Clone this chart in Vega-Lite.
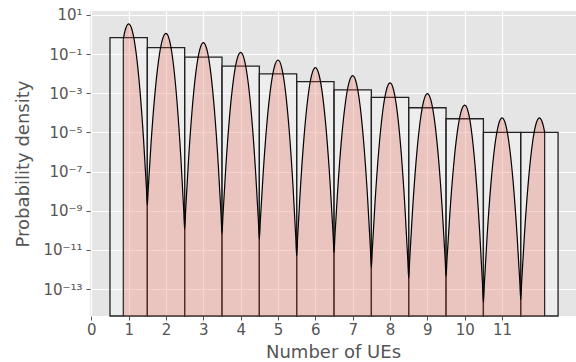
{
  "$schema": "https://vega.github.io/schema/vega-lite/v6.json",
  "width": 486,
  "height": 305,
  "autosize": {"type": "none"},
  "padding": {"left": 90, "top": 11, "right": 0, "bottom": 46},
  "background": "white",
  "config": {
    "view": {"fill": "#E5E5E5", "stroke": null},
    "axis": {
      "domain": false,
      "gridColor": "white",
      "gridWidth": 1.2,
      "tickColor": "#555555",
      "tickSize": 4,
      "labelColor": "#555555",
      "titleColor": "#555555",
      "labelFont": "DejaVu Sans",
      "titleFont": "DejaVu Sans",
      "titleFontWeight": "normal",
      "labelFontSize": 15,
      "titleFontSize": 18
    }
  },
  "datasets": {
    "bars": [
      {"ues": 0.5, "ues_end": 1.5, "density": 0.692},
      {"ues": 1.5, "ues_end": 2.5, "density": 0.214},
      {"ues": 2.5, "ues_end": 3.5, "density": 0.0708},
      {"ues": 3.5, "ues_end": 4.5, "density": 0.0245},
      {"ues": 4.5, "ues_end": 5.5, "density": 0.00977},
      {"ues": 5.5, "ues_end": 6.5, "density": 0.00389},
      {"ues": 6.5, "ues_end": 7.5, "density": 0.00148},
      {"ues": 7.5, "ues_end": 8.5, "density": 0.000617},
      {"ues": 8.5, "ues_end": 9.5, "density": 0.000182},
      {"ues": 9.5, "ues_end": 10.5, "density": 0.0000501},
      {"ues": 10.5, "ues_end": 11.5, "density": 0.00001},
      {"ues": 11.5, "ues_end": 12.5, "density": 0.00001}
    ],
    "curve": [
      {"ues": 0.857, "density": 5.75e-1},
      {"ues": 0.9, "density": 1.48},
      {"ues": 1.0, "density": 3.47},
      {"ues": 1.1, "density": 1.48},
      {"ues": 1.2, "density": 1.15e-1},
      {"ues": 1.3, "density": 1.62e-3},
      {"ues": 1.4, "density": 4.17e-6},
      {"ues": 1.475, "density": 1.56e-8},
      {"ues": 1.5, "density": 1.95e-9},
      {"ues": 1.525, "density": 1.40e-8},
      {"ues": 1.6, "density": 2.80e-6},
      {"ues": 1.7, "density": 8.00e-4},
      {"ues": 1.8, "density": 4.54e-2},
      {"ues": 1.9, "density": 5.13e-1},
      {"ues": 2.0, "density": 1.15},
      {"ues": 2.1, "density": 4.57e-1},
      {"ues": 2.2, "density": 2.87e-2},
      {"ues": 2.3, "density": 2.86e-4},
      {"ues": 2.4, "density": 4.51e-7},
      {"ues": 2.475, "density": 1.06e-9},
      {"ues": 2.5, "density": 1.12e-10},
      {"ues": 2.525, "density": 9.55e-10},
      {"ues": 2.6, "density": 3.05e-7},
      {"ues": 2.7, "density": 1.43e-4},
      {"ues": 2.8, "density": 1.16e-2},
      {"ues": 2.9, "density": 1.61e-1},
      {"ues": 3.0, "density": 3.89e-1},
      {"ues": 3.1, "density": 1.58e-1},
      {"ues": 3.2, "density": 1.07e-2},
      {"ues": 3.3, "density": 1.20e-4},
      {"ues": 3.4, "density": 2.24e-7},
      {"ues": 3.475, "density": 6.18e-10},
      {"ues": 3.5, "density": 6.92e-11},
      {"ues": 3.525, "density": 5.52e-10},
      {"ues": 3.6, "density": 1.48e-7},
      {"ues": 3.7, "density": 5.75e-5},
      {"ues": 3.8, "density": 4.07e-3},
      {"ues": 3.9, "density": 5.25e-2},
      {"ues": 4.0, "density": 1.23e-1},
      {"ues": 4.1, "density": 5.11e-2},
      {"ues": 4.2, "density": 3.66e-3},
      {"ues": 4.3, "density": 4.53e-5},
      {"ues": 4.4, "density": 9.64e-8},
      {"ues": 4.475, "density": 3.02e-10},
      {"ues": 4.5, "density": 3.55e-11},
      {"ues": 4.525, "density": 2.77e-10},
      {"ues": 4.6, "density": 6.98e-8},
      {"ues": 4.7, "density": 2.55e-5},
      {"ues": 4.8, "density": 1.72e-3},
      {"ues": 4.9, "density": 2.16e-2},
      {"ues": 5.0, "density": 5.01e-2},
      {"ues": 5.1, "density": 2.00e-2},
      {"ues": 5.2, "density": 1.26e-3},
      {"ues": 5.3, "density": 1.26e-5},
      {"ues": 5.4, "density": 2.00e-8},
      {"ues": 5.475, "density": 4.73e-11},
      {"ues": 5.5, "density": 5.01e-12},
      {"ues": 5.525, "density": 4.34e-11},
      {"ues": 5.6, "density": 1.45e-8},
      {"ues": 5.7, "density": 7.08e-6},
      {"ues": 5.8, "density": 5.92e-4},
      {"ues": 5.9, "density": 8.43e-3},
      {"ues": 6.0, "density": 2.04e-2},
      {"ues": 6.1, "density": 8.55e-3},
      {"ues": 6.2, "density": 6.31e-4},
      {"ues": 6.3, "density": 8.17e-6},
      {"ues": 6.4, "density": 1.85e-8},
      {"ues": 6.475, "density": 6.17e-11},
      {"ues": 6.5, "density": 7.41e-12},
      {"ues": 6.525, "density": 5.62e-11},
      {"ues": 6.6, "density": 1.32e-8},
      {"ues": 6.7, "density": 4.46e-6},
      {"ues": 6.8, "density": 2.85e-4},
      {"ues": 6.9, "density": 3.46e-3},
      {"ues": 7.0, "density": 7.94e-3},
      {"ues": 7.1, "density": 3.22e-3},
      {"ues": 7.2, "density": 2.15e-4},
      {"ues": 7.3, "density": 2.36e-6},
      {"ues": 7.4, "density": 4.25e-9},
      {"ues": 7.475, "density": 1.14e-11},
      {"ues": 7.5, "density": 1.26e-12},
      {"ues": 7.525, "density": 1.04e-11},
      {"ues": 7.6, "density": 3.13e-9},
      {"ues": 7.7, "density": 1.36e-6},
      {"ues": 7.8, "density": 1.05e-4},
      {"ues": 7.9, "density": 1.42e-3},
      {"ues": 8.0, "density": 3.39e-3},
      {"ues": 8.1, "density": 1.35e-3},
      {"ues": 8.2, "density": 8.57e-5},
      {"ues": 8.3, "density": 8.65e-7},
      {"ues": 8.4, "density": 1.39e-9},
      {"ues": 8.475, "density": 3.33e-12},
      {"ues": 8.5, "density": 3.55e-13},
      {"ues": 8.525, "density": 2.94e-12},
      {"ues": 8.6, "density": 8.81e-10},
      {"ues": 8.7, "density": 3.85e-7},
      {"ues": 8.8, "density": 2.96e-5},
      {"ues": 8.9, "density": 4.01e-4},
      {"ues": 9.0, "density": 9.55e-4},
      {"ues": 9.1, "density": 4.05e-4},
      {"ues": 9.2, "density": 3.08e-5},
      {"ues": 9.3, "density": 4.22e-7},
      {"ues": 9.4, "density": 1.03e-9},
      {"ues": 9.475, "density": 3.71e-12},
      {"ues": 9.5, "density": 4.57e-13},
      {"ues": 9.525, "density": 3.25e-12},
      {"ues": 9.6, "density": 6.40e-10},
      {"ues": 9.7, "density": 1.79e-7},
      {"ues": 9.8, "density": 1.00e-5},
      {"ues": 9.9, "density": 1.12e-4},
      {"ues": 10.0, "density": 2.51e-4},
      {"ues": 10.1, "density": 9.93e-5},
      {"ues": 10.2, "density": 6.12e-6},
      {"ues": 10.3, "density": 5.90e-8},
      {"ues": 10.4, "density": 8.89e-11},
      {"ues": 10.475, "density": 2.01e-13},
      {"ues": 10.5, "density": 2.09e-14},
      {"ues": 10.525, "density": 1.73e-13},
      {"ues": 10.6, "density": 5.14e-11},
      {"ues": 10.7, "density": 2.23e-8},
      {"ues": 10.8, "density": 1.71e-6},
      {"ues": 10.9, "density": 2.31e-5},
      {"ues": 11.0, "density": 5.50e-5},
      {"ues": 11.1, "density": 2.34e-5},
      {"ues": 11.2, "density": 1.81e-6},
      {"ues": 11.3, "density": 2.53e-8},
      {"ues": 11.4, "density": 6.41e-11},
      {"ues": 11.475, "density": 2.37e-13},
      {"ues": 11.5, "density": 2.95e-14},
      {"ues": 11.525, "density": 2.37e-13},
      {"ues": 11.6, "density": 6.41e-11},
      {"ues": 11.7, "density": 2.53e-8},
      {"ues": 11.8, "density": 1.81e-6},
      {"ues": 11.9, "density": 2.34e-5},
      {"ues": 12.0, "density": 5.50e-5},
      {"ues": 12.1, "density": 2.34e-5},
      {"ues": 12.14, "density": 1.03e-5}
    ]
  },
  "encoding": {
    "x": {
      "field": "ues",
      "type": "quantitative",
      "scale": {"domain": [-0.035, 12.98], "nice": false, "zero": false},
      "axis": {
        "title": "Number of UEs",
        "values": [0, 1, 2, 3, 4, 5, 6, 7, 8, 9, 10, 11],
        "labelPadding": 2,
        "labelFlush": false,
        "titleY": 41,
        "titleBaseline": "alphabetic"
      }
    },
    "y": {
      "field": "density",
      "type": "quantitative",
      "scale": {"type": "log", "domain": [4.27e-15, 15.85], "nice": false, "clamp": true},
      "axis": {
        "title": "Probability density",
        "values": [10, 0.1, 0.001, 0.00001, 0.0000001, 0.000000001, 0.00000000001, 0.0000000000001],
        "labelExpr": "datum.value > 1 ? '10¹' : datum.value > 0.01 ? '10⁻¹' : datum.value > 0.0001 ? '10⁻³' : datum.value > 0.000001 ? '10⁻⁵' : datum.value > 0.00000001 ? '10⁻⁷' : datum.value > 0.0000000001 ? '10⁻⁹' : datum.value > 0.000000000001 ? '10⁻¹¹' : '10⁻¹³'",
        "labelPadding": 4,
        "labelFlush": false,
        "titleX": -62,
        "titleY": 152.5,
        "titleAlign": "center",
        "titleBaseline": "alphabetic"
      }
    }
  },
  "layer": [
    {
      "data": {"name": "bars"},
      "mark": {"type": "rect", "fill": "white", "fillOpacity": 0.3, "stroke": "#222222", "strokeWidth": 1.3},
      "encoding": {
        "x2": {"field": "ues_end"},
        "y2": {"datum": 1e-20}
      }
    },
    {
      "data": {"name": "curve"},
      "mark": {"type": "area", "color": "#E24A33", "fillOpacity": 0.25, "interpolate": "monotone"},
      "encoding": {
        "y2": {"datum": 1e-20}
      }
    },
    {
      "data": {"name": "curve"},
      "mark": {"type": "line", "color": "black", "strokeWidth": 1.2, "interpolate": "monotone"},
      "encoding": {}
    },
    {
      "data": {"name": "curve"},
      "transform": [{"filter": "datum.ues < 0.86 || datum.ues > 12.13"}],
      "mark": {"type": "rule", "color": "#222222", "strokeWidth": 1.2},
      "encoding": {
        "y2": {"datum": 1e-20}
      }
    }
  ]
}
